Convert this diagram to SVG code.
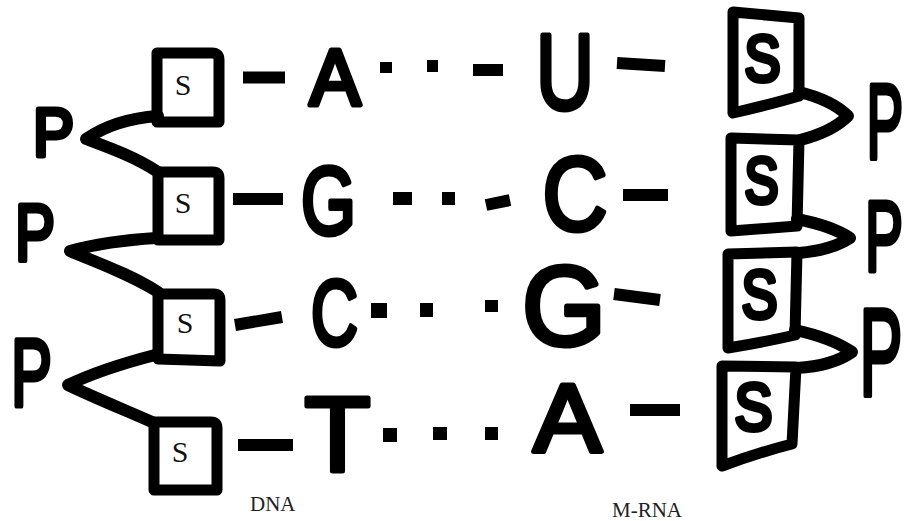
<svg xmlns="http://www.w3.org/2000/svg" width="906" height="521" viewBox="0 0 906 521">
  <style>
    .ink { fill: none; stroke: #000; stroke-linejoin: round; stroke-linecap: round; }
    .box { stroke-width: 11; }
    .bond { stroke-width: 12; }
    .dash { stroke: #000; stroke-width: 12; stroke-linecap: butt; }
    .dot { fill: #000; }
    .hand { font-family: "Liberation Sans", Arial, sans-serif; font-weight: normal; fill: #000; stroke: #000; stroke-width: 5; stroke-linejoin: round; text-anchor: middle; }
    .sug { font-family: "Liberation Serif", "Times New Roman", serif; font-size: 30px; fill: #111; text-anchor: middle; }
    .cap { font-family: "Liberation Serif", "Times New Roman", serif; font-size: 21px; fill: #222; }
  </style>
  <rect width="906" height="521" fill="#fff"/>

  <!-- DNA strand: sugars (serif S) -->
  <g id="dna-sugar-1">
    <path class="ink box" d="M157,122 V53 H212 Q219,53 219,60 V122 Z"/>
    <text class="sug" x="183" y="95">S</text>
  </g>
  <g id="dna-sugar-2">
    <path class="ink box" d="M158,240 V172 H213 Q219,172 219,178 V240 Z"/>
    <text class="sug" x="183" y="213">S</text>
  </g>
  <g id="dna-sugar-3">
    <path class="ink box" d="M158,359 V294 H214 Q220,294 220,300 V361 Z"/>
    <text class="sug" x="185" y="333">S</text>
  </g>
  <g id="dna-sugar-4">
    <path class="ink box" d="M154,490 V422 H211 Q217,422 217,428 V490 Z"/>
    <text class="sug" x="180" y="462">S</text>
  </g>

  <!-- DNA strand: phosphates -->
  <g id="dna-phosphate-1"><text class="hand" x="53.5" y="156" font-size="68" textLength="41" lengthAdjust="spacingAndGlyphs">P</text></g>
  <g id="dna-phosphate-2"><text class="hand" x="35" y="260" font-size="80" textLength="40" lengthAdjust="spacingAndGlyphs">P</text></g>
  <g id="dna-phosphate-3"><text class="hand" x="31.5" y="406" font-size="96" textLength="41" lengthAdjust="spacingAndGlyphs">P</text></g>

  <!-- DNA bases -->
  <g id="dna-base-A"><text class="hand" x="335" y="105" font-size="80" textLength="51" lengthAdjust="spacingAndGlyphs">A</text></g>
  <g id="dna-base-G"><text class="hand" x="328.5" y="234" font-size="97" textLength="55" lengthAdjust="spacingAndGlyphs">G</text></g>
  <g id="dna-base-C"><text class="hand" x="334.5" y="345" font-size="92" textLength="47" lengthAdjust="spacingAndGlyphs">C</text></g>
  <g id="dna-base-T"><text class="hand" x="337.5" y="471" font-size="106" textLength="66" lengthAdjust="spacingAndGlyphs">T</text></g>

  <!-- mRNA bases -->
  <g id="rna-base-U"><text class="hand" x="565" y="109" font-size="108" textLength="58" lengthAdjust="spacingAndGlyphs">U</text></g>
  <g id="rna-base-C"><text class="hand" x="575" y="230" font-size="103" textLength="65" lengthAdjust="spacingAndGlyphs">C</text></g>
  <g id="rna-base-G"><text class="hand" x="564" y="345" font-size="114" textLength="84" lengthAdjust="spacingAndGlyphs">G</text></g>
  <g id="rna-base-A"><text class="hand" x="567.5" y="451" font-size="96" textLength="68" lengthAdjust="spacingAndGlyphs">A</text></g>

  <!-- mRNA strand: sugars (hand-lettered S) -->
  <g id="rna-sugar-1">
    <path class="ink box" d="M733,12 L799,18 L799,96 Q772,104 733,113 Z"/>
    <text class="hand" x="762.5" y="81" font-size="64" textLength="36" lengthAdjust="spacingAndGlyphs" stroke-width="7">S</text>
  </g>
  <g id="rna-sugar-2">
    <path class="ink box" d="M731,138 L799,140 L797,226 Q770,228 731,231 Z"/>
    <text class="hand" x="761.5" y="203" font-size="64" textLength="34" lengthAdjust="spacingAndGlyphs" stroke-width="7">S</text>
  </g>
  <g id="rna-sugar-3">
    <path class="ink box" d="M728,254 L797,252 L795,335 Q765,342 728,348 Z"/>
    <text class="hand" x="759.5" y="318" font-size="68" textLength="36" lengthAdjust="spacingAndGlyphs" stroke-width="7">S</text>
  </g>
  <g id="rna-sugar-4">
    <path class="ink box" d="M722,366 L796,367 L792,444 Q760,452 722,466 Z"/>
    <text class="hand" x="753.5" y="430" font-size="67" textLength="38" lengthAdjust="spacingAndGlyphs" stroke-width="7">S</text>
  </g>

  <!-- mRNA strand: phosphates (narrowed by a horizontal scale) -->
  <g id="rna-phosphate-1"><text class="hand" transform="translate(885,158) scale(0.52,1)" font-size="106" stroke-width="7">P</text></g>
  <g id="rna-phosphate-2"><text class="hand" transform="translate(884,271) scale(0.57,1)" font-size="100" stroke-width="7">P</text></g>
  <g id="rna-phosphate-3"><text class="hand" transform="translate(881,395) scale(0.52,1)" font-size="124" stroke-width="7">P</text></g>

  <!-- captions -->
  <g id="label-dna"><text class="cap" x="250" y="511">DNA</text></g>
  <g id="label-mrna"><text class="cap" x="612" y="517">M-RNA</text></g>

  <!-- connectors: backbone bonds, base links and pairing dots -->
  <g id="connectors">
    <!-- DNA backbone: phosphate to sugar -->
    <path class="ink bond" d="M158,116 C130,118 105,126 86,139 C110,148 135,157 158,172"/>
    <path class="ink bond" d="M156,238 C125,240 95,244 70,251 C95,262 128,273 158,292"/>
    <path class="ink bond" d="M155,355 C128,362 95,372 68,385 C95,398 125,410 152,422"/>
    <!-- mRNA backbone: sugar to phosphate -->
    <path class="ink bond" d="M799,92 Q832,100 848,116 Q832,132 800,140"/>
    <path class="ink bond" d="M797,219 Q832,226 850,238 Q832,250 799,253"/>
    <path class="ink bond" d="M795,330 Q832,338 852,352 Q832,366 797,368"/>

    <!-- row 1: S - A . . . - U - S -->
    <line class="dash" x1="243" y1="77.5" x2="285" y2="77.5" stroke-width="11"/>
    <rect class="dot" x="380" y="62" width="12" height="11"/>
    <rect class="dot" x="427" y="60" width="11" height="12"/>
    <line class="dash" x1="473" y1="70" x2="503" y2="70" stroke-width="10"/>
    <line class="dash" x1="617" y1="63" x2="665" y2="66" stroke-width="13"/>

    <!-- row 2: S - G . . . C - S -->
    <line class="dash" x1="233" y1="199" x2="283" y2="199" stroke-width="13"/>
    <rect class="dot" x="393" y="192" width="19" height="13"/>
    <rect class="dot" x="442" y="192" width="13" height="13"/>
    <line class="dash" x1="486" y1="205" x2="510" y2="200" stroke-width="12"/>
    <line class="dash" x1="623" y1="195" x2="668" y2="195" stroke-width="13"/>

    <!-- row 3: S - C . . . G - S -->
    <line class="dash" x1="235" y1="325" x2="282" y2="317" stroke-width="13"/>
    <rect class="dot" x="371" y="303" width="16" height="15"/>
    <rect class="dot" x="420" y="303" width="13" height="14"/>
    <rect class="dot" x="485" y="300" width="13" height="12"/>
    <line class="dash" x1="614" y1="294" x2="660" y2="300" stroke-width="13"/>

    <!-- row 4: S - T . . . A - S -->
    <line class="dash" x1="238" y1="445" x2="293" y2="445" stroke-width="13"/>
    <rect class="dot" x="383" y="428" width="14" height="14"/>
    <rect class="dot" x="433" y="427" width="14" height="13"/>
    <rect class="dot" x="485" y="427" width="13" height="13"/>
    <line class="dash" x1="630" y1="410" x2="680" y2="410" stroke-width="11"/>
  </g>
</svg>
